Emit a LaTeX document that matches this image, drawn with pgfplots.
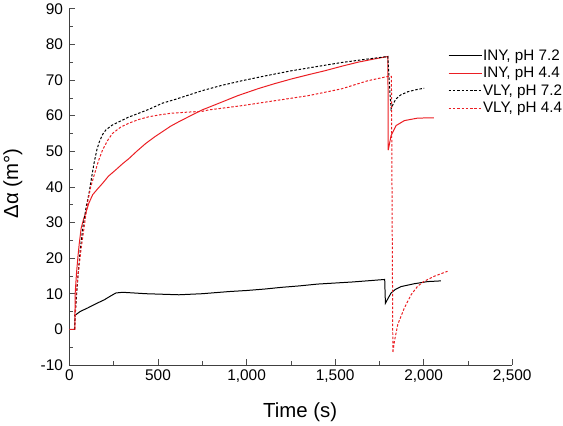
\documentclass[border=0pt]{standalone}
\usepackage{fontspec}
\setmainfont{Liberation Sans}
\usepackage{pgfplots}
\pgfplotsset{compat=1.18}
\definecolor{myred}{RGB}{235,30,35}
\begin{document}
\begin{tikzpicture}
\begin{axis}[
 scale only axis, width=445pt, height=358pt,
 xmin=0, xmax=2500, ymin=-10, ymax=90,
 axis lines*=left,
 axis line style={black!75, line width=0.8pt},
 xtick={0,500,...,2500}, ytick={-10,0,...,90},
 minor x tick num=1, minor y tick num=1,
 tick align=inside,
 major tick length=6pt, minor tick length=3.5pt,
 tick style={black!70, line width=0.6pt},
 /pgf/number format/assume math mode=true,
 /pgf/number format/1000 sep={,},
 ticklabel style={font=\fontsize{15.5}{18}\selectfont},
 yticklabel style={xshift=-3pt},
 xticklabel style={yshift=-1pt},
 xlabel={Time (s)}, ylabel={Δα (m°)},
 label style={font=\fontsize{20.5}{24}\selectfont},
 xlabel style={at={(axis description cs:0.521,-0.134)}, anchor=center},
 ylabel style={at={(axis description cs:-0.128,0.51)}, anchor=center},
 legend style={draw=none, fill=none, at={(0.855,0.888)}, anchor=north west, inner sep=0pt,
   font=\fontsize{15.3}{18}\selectfont, row sep=3.5pt, nodes={inner sep=1pt}},
 legend cell align=left,
 legend image code/.code={\draw[#1] (0pt,0pt) -- (33pt,0pt);},
]
\addplot[black, line width=1pt] coordinates {
(28,3.8) (60,5) (103,6) (150,7.2) (197,8.3) (230,9.3) (262,10.2) (300,10.4) (431,10) (618,9.7) (750,10) (900,10.6) (1000,10.9) (1100,11.3) (1200,11.8) (1300,12.2) (1400,12.7) (1500,13) (1600,13.3) (1704,13.7) (1780,14.0) (1784,7.3) (1800,8.8) (1816,10.2) (1840,11.2) (1872,12.0) (1947,12.8) (2022,13.4) (2097,13.6)
};
\addlegendentry{INY, pH 7.2}
\addplot[myred, line width=1pt] coordinates {
(0,0) (30,0) (32,10) (40,16) (47,20) (55,24) (66,28.4) (80,31) (94,33) (110,35.5) (131,37.8) (160,39.5) (187,41) (220,43) (262,44.8) (300,46.5) (337,48) (380,50) (431,52.2) (480,54) (525,55.5) (570,57) (618,58.3) (693,60.2) (749,61.6) (820,63) (880,64.2) (950,65.6) (1067,67.6) (1160,69.0) (1254,70.3) (1350,71.5) (1442,72.6) (1540,73.9) (1629,75.0) (1720,75.9) (1798,76.6) (1800,50.3) (1816,54.4) (1844,57.2) (1891,58.6) (1966,59.3) (2058,59.4)
};
\addlegendentry{INY, pH 4.4}
\addplot[black, line width=1pt, dash pattern=on 2.5pt off 1.8pt] coordinates {
(28,0) (35,6) (47,14.4) (60,22) (75,28.4) (93,34) (112,38.7) (126,43) (140,47) (155,50.5) (169,52.7) (188,54.8) (206,56) (240,57.3) (281,58.3) (330,59.5) (393,60.7) (450,61.8) (525,63.5) (600,64.6) (693,66.1) (749,67) (860,68.5) (974,69.8) (1110,71.2) (1254,72.6) (1400,73.8) (1535,74.9) (1670,75.8) (1798,76.6) (1805,70) (1816,61.9) (1830,63.5) (1844,64.7) (1870,65.8) (1910,66.7) (1960,67.3) (2003,67.7)
};
\addlegendentry{VLY, pH 7.2}
\addplot[myred, line width=1pt, dash pattern=on 2.5pt off 1.8pt] coordinates {
(30,0) (37,9.7) (50,16) (66,22.8) (85,29.5) (103,35.9) (120,40) (140,43.4) (163,47.2) (187,50.4) (215,53) (243,55) (290,56.8) (337,57.9) (390,58.9) (449,59.7) (520,60.3) (580,60.7) (674,61) (749,61.2) (786,61.6) (974,62.8) (1161,64.2) (1348,65.6) (1535,67.5) (1685,69.8) (1798,71) (1818,71) (1826,-6.6) (1835,-3.3) (1854,1.4) (1891,6) (1929,9.7) (1966,12.1) (2003,13.5) (2060,14.9) (2135,16.3)
};
\addlegendentry{VLY, pH 4.4}
\end{axis}
\end{tikzpicture}
\end{document}
